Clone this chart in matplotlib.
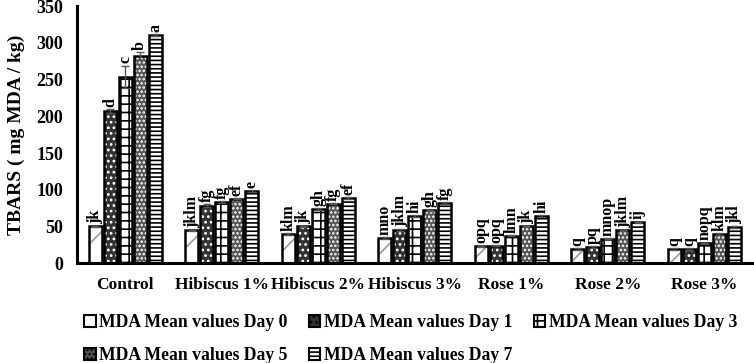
import matplotlib
matplotlib.use("Agg")
import matplotlib.pyplot as plt
import numpy as np
from matplotlib.patches import Patch

categories = ["Control", "Hibiscus 1%", "Hibiscus 2%", "Hibiscus 3%", "Rose 1%", "Rose 2%", "Rose 3%"]
series_names = ["MDA Mean values Day 0", "MDA Mean values Day 1", "MDA Mean values Day 3",
                "MDA Mean values Day 5", "MDA Mean values Day 7"]
day0 = [50, 44.5, 40, 34.5, 23, 19, 19]
day1 = [207, 78, 50, 45, 24, 22, 19.5]
day3 = [254, 83, 73.5, 64.5, 37.5, 33.5, 27]
day5 = [282, 88, 81, 72, 50, 44.5, 39.5]
day7 = [311, 98, 88.5, 82, 64.5, 55.5, 49.5]
err0 = [1, 1, 1, 1, 1, 1, 1]
err1 = [3, 2, 1, 1, 1, 1, 1]
err3 = [15, 1, 1, 1, 1, 1, 1]
err5 = [5, 1, 1, 1, 1, 1, 1]
err7 = [1, 1, 1, 1, 1, 1, 1]
letters0 = ["jk", "jklm", "klm", "mno", "opq", "q", "q"]
letters1 = ["d", "fg", "jk", "jklm", "opq", "pq", "q"]
letters3 = ["c", "fg", "gh", "hi", "lmn", "mnop", "nopq"]
letters5 = ["b", "ef", "fg", "gh", "jk", "jklm", "klm"]
letters7 = ["a", "e", "ef", "fg", "hi", "ij", "jkl"]

values = [day0, day1, day3, day5, day7]
errors = [err0, err1, err3, err5, err7]
letters = [letters0, letters1, letters3, letters5, letters7]

styles = [
    dict(face="white", hatch="/", hcolor="#9a9a9a"),
    dict(face="#333333", hatch="...", hcolor="white"),
    dict(face="white", hatch="++", hcolor="black"),
    dict(face="#555555", hatch="....", hcolor="white"),
    dict(face="white", hatch="----", hcolor="black"),
]

plt.rcParams["font.family"] = ["Liberation Serif", "DejaVu Serif"]
plt.rcParams["font.weight"] = "bold"
plt.rcParams["hatch.linewidth"] = 1.2

fig = plt.figure(figsize=(7.54, 3.63), dpi=100)
ax = fig.add_axes([0.102, 0.275, 0.896, 0.708])

x = np.arange(len(categories))
width = 0.135
pitch = 0.155
for i, (vals, errs, lets, st) in enumerate(zip(values, errors, letters, styles)):
    pos = x + (i - 2) * pitch
    ax.bar(pos, vals, width, color=st["face"], hatch=st["hatch"], edgecolor=st["hcolor"],
           linewidth=0, zorder=2)
    ax.bar(pos, vals, width, fill=False, edgecolor="black", linewidth=1.8, zorder=3)
    ax.errorbar(pos, vals, yerr=errs, fmt="none", ecolor="#555555", elinewidth=1,
                capsize=3, capthick=1, zorder=4)
    for p, v, e, t in zip(pos, vals, errs, lets):
        ax.text(p, v + e + 3, t, rotation=90, ha="center", va="bottom",
                fontsize=11.5, fontweight="bold", zorder=5)

ax.set_xlim(-0.5, len(categories) - 0.5)
ax.set_ylim(0, 350)
ax.set_yticks(np.arange(0, 351, 50))
ax.set_xticks(x)
ax.set_xticklabels(categories, fontsize=12.5, fontweight="bold")
ax.tick_params(axis="y", length=0, labelsize=13, pad=10)
ax.tick_params(axis="x", length=0, pad=10)
for lab in ax.get_yticklabels():
    lab.set_fontweight("bold")
ax.spines["top"].set_visible(False)
ax.spines["right"].set_visible(False)
ax.spines["left"].set_linewidth(2.2)
ax.spines["bottom"].set_linewidth(2.2)
ax.set_ylabel("TBARS ( mg MDA / kg)", fontsize=14, fontweight="bold", labelpad=8)

handles = []
for st, name in zip(styles, series_names):
    handles.append(Patch(facecolor=st["face"], hatch=st["hatch"], edgecolor="black",
                         linewidth=1.5, label=name))
order = [0, 3, 1, 4, 2]
leg = fig.legend([handles[k] for k in order], [series_names[k] for k in order],
                 ncol=3, loc="upper left", bbox_to_anchor=(0.112, 0.135),
                 frameon=False, fontsize=12.7, handlelength=0.65, handleheight=0.65,
                 handletextpad=0.2, columnspacing=1.2, labelspacing=0.9,
                 borderaxespad=0, borderpad=0)
for t in leg.get_texts():
    t.set_fontweight("bold")

fig.savefig("out.png", dpi=100)
